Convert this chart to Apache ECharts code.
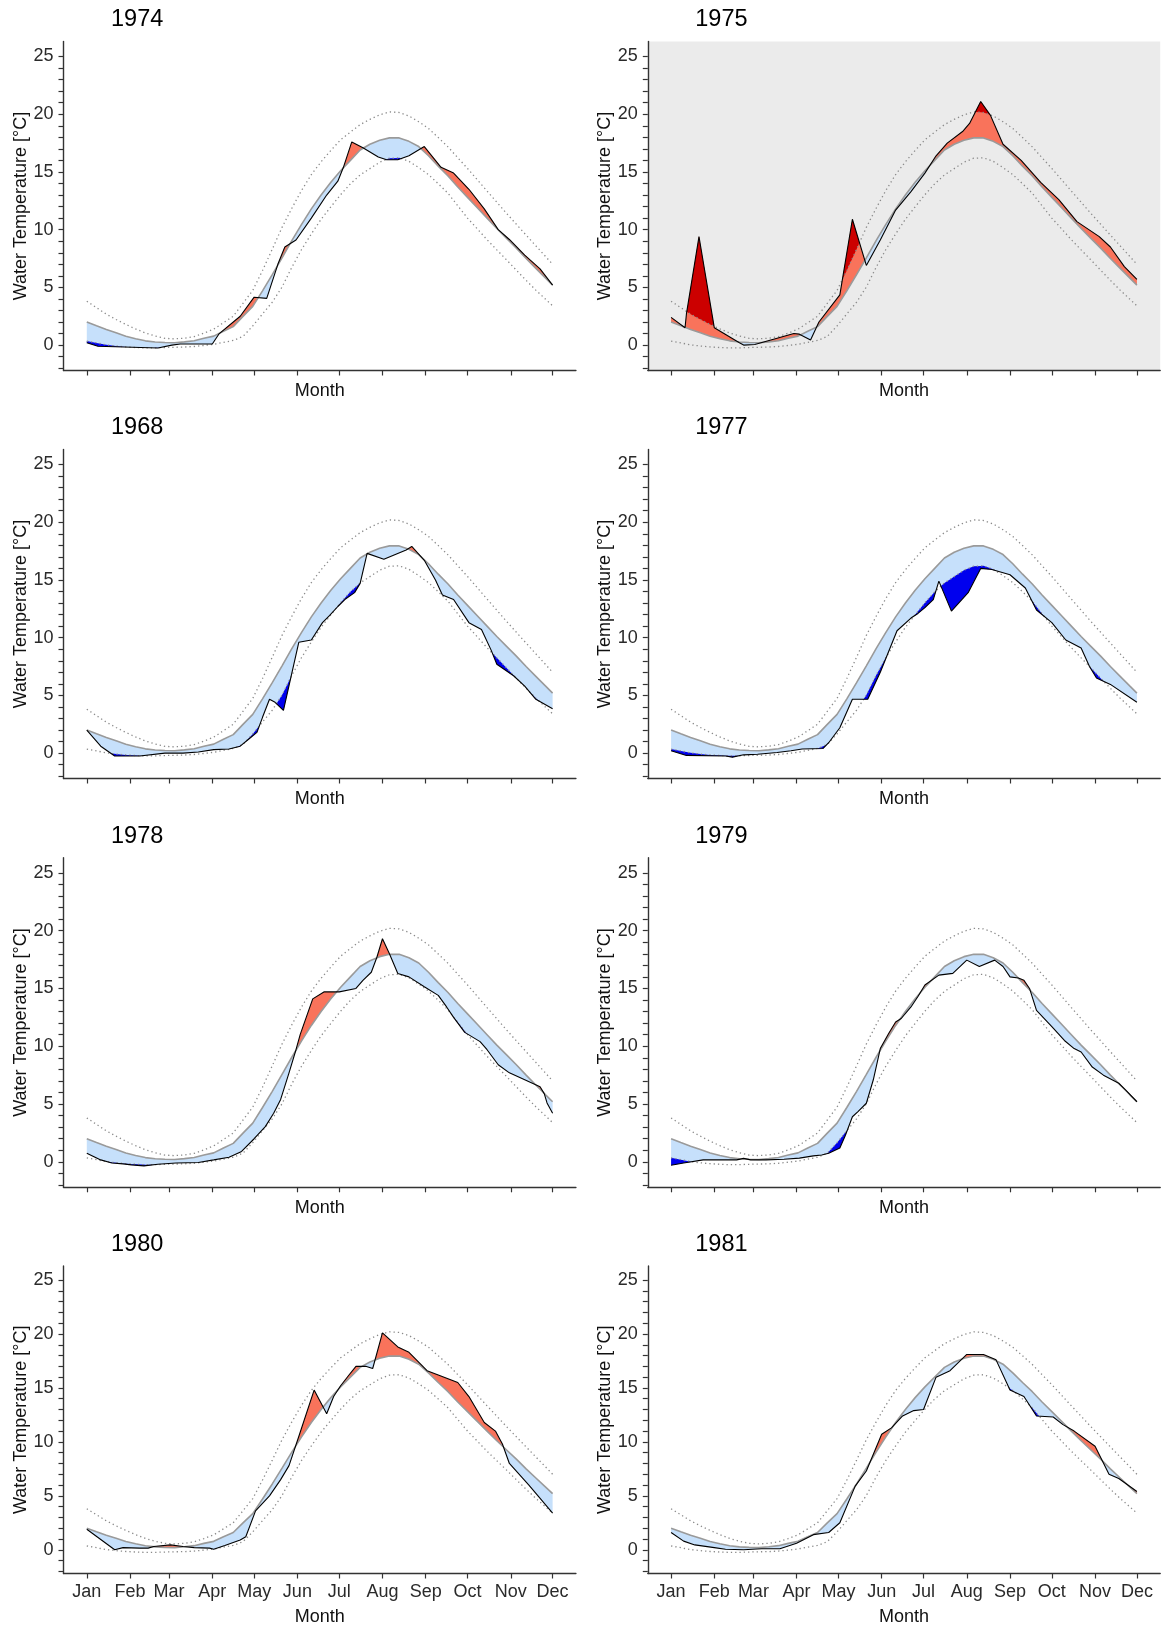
<!DOCTYPE html>
<html><head><meta charset="utf-8">
<script src="https://cdn.jsdelivr.net/npm/echarts@6/dist/echarts.min.js"></script>
<style>html,body{margin:0;padding:0;background:#fff}#c{width:1175px;height:1627px}</style>
</head><body><div id="c"></div>
<script>
// ---- axis ticks / labels ----
const monthStarts = [0,31,59,90,120,151,181,212,243,273,304,334];
const monthNames = ['Jan','Feb','Mar','Apr','May','Jun','Jul','Aug','Sep','Oct','Nov','Dec'];
const yTickValues = [-2,-1,0,1,2,3,4,5,6,7,8,9,10,11,12,13,14,15,16,17,18,19,20,21,22,23,24,25];
const yLabelValues = [0,5,10,15,20,25];

// ---- climatology (day of year from Jan 1) ----
const climDays  = [0,7,14,21,28,35,42,49,56,63,70,77,84,91,98,105,112,119,126,133,140,147,154,161,168,175,182,189,196,203,210,217,224,231,238,245,252,259,266,273,280,287,294,301,308,315,322,329,334];
const climMean  = [2.0,1.67,1.35,1.06,0.77,0.55,0.37,0.27,0.22,0.2,0.28,0.38,0.59,0.78,1.2,1.6,2.49,3.35,4.7,6.1,7.56,9.05,10.46,11.8,13.0,14.1,15.1,16.0,16.9,17.4,17.75,17.95,17.95,17.65,17.2,16.4,15.5,14.65,13.7,12.8,11.9,11.0,10.1,9.25,8.4,7.5,6.65,5.8,5.2];
const climUpper = [3.8,3.24,2.68,2.22,1.79,1.4,1.05,0.79,0.59,0.54,0.6,0.74,1.04,1.38,1.94,2.5,3.62,4.74,6.46,8.31,10.2,11.85,13.4,14.77,15.88,16.86,17.79,18.45,19.1,19.55,19.95,20.2,20.15,19.85,19.35,18.77,17.98,17.17,16.23,15.3,14.32,13.34,12.38,11.41,10.47,9.53,8.6,7.67,7.0];
const climLower = [0.35,0.19,0.02,-0.08,-0.16,-0.21,-0.24,-0.24,-0.21,-0.19,-0.17,-0.12,-0.03,0.07,0.24,0.4,0.75,1.66,2.7,3.72,5.03,6.74,8.28,9.63,10.9,11.98,13.03,13.97,14.74,15.29,15.84,16.19,16.22,15.92,15.38,14.77,13.98,13.15,12.07,11.0,10.07,9.13,8.25,7.38,6.49,5.61,4.76,3.97,3.4];

// ---- observed water temperature [day, °C] ----
const obs1974 = [[0,0.2],[8,-0.1],[51,-0.25],[61,0.0],[67,0.1],[90,0.1],[95,1.0],[110,2.5],[120,4.15],[129,4.05],[137,7.0],[142,8.5],[150,9.1],[161,11.0],[172,13.0],[180,14.2],[184,15.4],[190,17.6],[198,17.1],[209,16.3],[215,16.05],[223,16.05],[231,16.4],[242,17.2],[254,15.4],[263,14.9],[274,13.5],[285,11.8],[295,10.0],[303,9.15],[314,7.8],[325,6.6],[334,5.2]];
const obs1975 = [[0,2.4],[10,1.5],[11,2.7],[20,9.4],[31,1.5],[49,0.2],[52,0.0],[60,0.05],[76,0.6],[88,1.0],[92,0.95],[100,0.45],[106,2.0],[121,4.35],[130,10.9],[140,6.9],[150,9.1],[161,11.7],[172,13.3],[182,14.9],[190,16.4],[198,17.5],[209,18.5],[214,19.2],[222,21.1],[229,19.9],[238,17.4],[251,16.0],[265,14.1],[278,12.6],[291,10.7],[307,9.4],[315,8.5],[325,6.8],[334,5.7]];
const obs1968 = [[0,2.0],[10,0.6],[20,-0.25],[38,-0.25],[56,0.0],[69,0.0],[80,0.1],[91,0.3],[102,0.35],[110,0.6],[116,1.2],[122,1.8],[126,3.1],[131,4.66],[135,4.4],[141,3.7],[152,9.6],[161,9.8],[169,11.3],[174,11.9],[180,12.7],[185,13.3],[192,13.9],[196,14.7],[201,17.3],[213,16.8],[229,17.6],[233,17.9],[242,16.7],[250,15.0],[255,13.7],[263,13.3],[274,11.3],[283,10.7],[290,8.9],[294,7.7],[306,6.7],[314,5.8],[322,4.66],[334,3.85]];
const obs1977 = [[0,0.2],[11,-0.2],[39,-0.25],[44,-0.35],[52,-0.15],[62,-0.1],[76,0.05],[86,0.2],[94,0.35],[109,0.4],[113,0.9],[121,2.2],[130,4.66],[141,4.66],[150,7.0],[162,10.6],[172,11.7],[177,12.1],[182,12.6],[188,13.3],[192,14.9],[201,12.3],[213,13.9],[222,16.0],[230,15.9],[243,15.45],[254,14.3],[262,12.4],[273,11.3],[283,9.8],[294,9.1],[300,7.5],[305,6.5],[315,5.95],[334,4.4]];
const obs1978 = [[0,0.75],[10,0.17],[18,-0.1],[26,-0.17],[32,-0.26],[41,-0.35],[51,-0.2],[64,-0.1],[80,-0.05],[91,0.17],[102,0.4],[111,0.9],[120,2.0],[128,3.05],[134,4.2],[139,5.4],[145,7.7],[150,9.7],[153,11.0],[162,14.1],[170,14.7],[181,14.7],[193,15.0],[198,15.7],[204,16.4],[208,17.7],[212,19.3],[217,18.0],[223,16.3],[231,16.0],[242,15.15],[252,14.4],[258,13.4],[263,12.5],[271,11.2],[282,10.4],[287,9.7],[295,8.4],[303,7.7],[314,7.1],[325,6.5],[328,5.9],[330,5.1],[334,4.2]];
const obs1979 = [[0,-0.3],[9,-0.1],[23,0.17],[39,0.17],[47,0.17],[52,0.3],[57,0.17],[68,0.17],[81,0.23],[92,0.32],[102,0.52],[108,0.6],[113,0.75],[121,1.2],[125,2.3],[130,3.9],[134,4.35],[140,5.07],[145,7.1],[150,9.8],[156,11.1],[161,12.1],[165,12.4],[172,13.4],[177,14.3],[182,15.3],[192,16.15],[202,16.3],[212,17.45],[221,16.9],[232,17.45],[238,16.9],[243,16.0],[249,15.9],[253,15.7],[257,15.0],[262,13.1],[273,11.7],[282,10.5],[289,9.8],[294,9.5],[302,8.2],[310,7.5],[321,6.8],[326,6.2],[334,5.2]];
const obs1980 = [[0,1.9],[20,0.0],[26,0.2],[38,0.15],[44,0.15],[48,0.3],[60,0.45],[69,0.3],[77,0.2],[88,0.15],[91,0.05],[99,0.4],[110,0.9],[114,1.2],[121,3.6],[131,5.0],[139,6.5],[145,7.8],[152,10.5],[163,14.8],[172,12.6],[177,14.2],[182,15.2],[188,16.2],[193,17.0],[200,17.0],[205,16.8],[212,20.1],[223,18.8],[231,18.3],[244,16.6],[252,16.2],[266,15.5],[274,14.2],[285,11.8],[293,11.0],[298,9.8],[303,8.0],[317,6.0],[334,3.4]];
const obs1981 = [[0,1.6],[9,0.8],[17,0.45],[31,0.2],[39,0.05],[52,0.0],[65,0.1],[78,0.1],[90,0.6],[102,1.4],[113,1.6],[121,2.5],[132,5.9],[140,7.3],[151,10.7],[158,11.3],[166,12.4],[174,12.9],[181,13.0],[190,16.0],[200,16.6],[212,18.1],[224,18.1],[233,17.6],[243,14.8],[253,14.2],[262,12.4],[274,12.3],[281,11.6],[289,11.0],[304,9.6],[314,7.0],[321,6.6],[334,5.4]];

const panelYears = ['1974','1975','1968','1977','1978','1979','1980','1981'];
const panelObs = [obs1974, obs1975, obs1968, obs1977, obs1978, obs1979, obs1980, obs1981];
const greyPanel = '1975';

// ---- layout & style ----
const COL_LEFT = [63.5, 647.8];
const PLOT_W = 512.4;
const ROW_TOP = [41.5, 449.5, 857.8, 1266];
const ROW_H = [329, 329, 329.5, 307.5];
const FONT = '"Liberation Sans", Arial, Helvetica, sans-serif';
const C_LIGHTBLUE = '#C6E0FB', C_SALMON = '#F9735B', C_DARKRED = '#CC0000', C_DARKBLUE = '#0000EE';

function interp(xs, ys, x) {
  if (x <= xs[0]) return ys[0];
  if (x >= xs[xs.length - 1]) return ys[ys.length - 1];
  let lo = 0, hi = xs.length - 1;
  while (hi - lo > 1) { const m = (lo + hi) >> 1; if (xs[m] <= x) lo = m; else hi = m; }
  const t = (x - xs[lo]) / (xs[hi] - xs[lo]);
  return ys[lo] + t * (ys[hi] - ys[lo]);
}
// split the area between polyline O and reference R into runs of constant sign
function bandRuns(X, O, R) {
  const out = []; let cur = null;
  for (let i = 0; i < X.length; i++) {
    const d = O[i] - R[i];
    const s = d > 0 ? 1 : (d < 0 ? -1 : 0);
    if (i > 0) {
      const dp = O[i - 1] - R[i - 1];
      if (dp * d < 0) {
        const t = dp / (dp - d);
        const xc = X[i - 1] + t * (X[i] - X[i - 1]);
        const yc = O[i - 1] + t * (O[i] - O[i - 1]);
        cur.pts.push([xc, yc, yc]);
        out.push(cur);
        cur = { sign: s, pts: [[xc, yc, yc]] };
      }
    }
    if (!cur) cur = { sign: s, pts: [] };
    if (cur.sign === 0) cur.sign = s;
    cur.pts.push([X[i], O[i], R[i]]);
    if (s === 0 && cur.pts.length > 1) { out.push(cur); cur = { sign: 0, pts: [[X[i], O[i], R[i]]] }; }
  }
  if (cur && cur.pts.length > 1) out.push(cur);
  return out;
}
function runPolygon(run) {
  const top = run.pts.map(p => [p[0], p[1]]);
  const bottom = run.pts.map(p => [p[0], p[2]]).reverse();
  return top.concat(bottom);
}
function buildPolys(obs) {
  const od = obs.map(p => p[0]), ov = obs.map(p => p[1]);
  const X = Array.from(new Set(od.concat(climDays)))
    .filter(x => x >= od[0] && x <= od[od.length - 1]).sort((a, b) => a - b);
  const O = X.map(x => interp(od, ov, x));
  const M = X.map(x => interp(climDays, climMean, x));
  const U = X.map(x => interp(climDays, climUpper, x));
  const L = X.map(x => interp(climDays, climLower, x));
  const polys = [];
  bandRuns(X, O, M).forEach(r => {
    if (r.sign > 0) polys.push({ c: C_SALMON, pts: runPolygon(r) });
    else if (r.sign < 0) polys.push({ c: C_LIGHTBLUE, pts: runPolygon(r) });
  });
  bandRuns(X, O, U).forEach(r => { if (r.sign > 0) polys.push({ c: C_DARKRED, pts: runPolygon(r) }); });
  bandRuns(X, O, L).forEach(r => { if (r.sign < 0) polys.push({ c: C_DARKBLUE, pts: runPolygon(r) }); });
  return polys;
}

const grids = [], xAxes = [], yAxes = [], series = [], graphics = [];
panelYears.forEach((yr, i) => {
  const row = Math.floor(i / 2), col = i % 2;
  const left = COL_LEFT[col], top = ROW_TOP[row], h = ROW_H[row];
  const isBottom = row === 3;
  grids.push({
    left: left, top: top, width: PLOT_W, height: h, containLabel: false,
    show: yr === greyPanel, backgroundColor: '#EBEBEB', borderWidth: 0
  });
  const axisLineStyle = { color: '#333', width: 1.4 };
  xAxes.push({
    type: 'value', gridIndex: i, min: -16.7, max: 350.7,
    axisLine: { show: true, onZero: false, lineStyle: axisLineStyle },
    axisTick: { show: true, length: 5, customValues: monthStarts, lineStyle: { color: '#333', width: 1.2 } },
    axisLabel: {
      show: isBottom, customValues: monthStarts, margin: 10,
      fontSize: 18, fontFamily: FONT, color: '#2a2a2a',
      formatter: v => monthNames[monthStarts.indexOf(v)] || ''
    },
    splitLine: { show: false }
  });
  yAxes.push({
    type: 'value', gridIndex: i, min: -2.2, max: 26.3,
    axisLine: { show: true, onZero: false, lineStyle: axisLineStyle },
    axisTick: { show: true, length: 5, customValues: yTickValues, lineStyle: { color: '#333', width: 1.2 } },
    axisLabel: { show: true, customValues: yLabelValues, margin: 10, fontSize: 18, fontFamily: FONT, color: '#2a2a2a' },
    splitLine: { show: false }
  });

  const polys = buildPolys(panelObs[i]);
  series.push({
    type: 'custom', xAxisIndex: i, yAxisIndex: i, silent: true, animation: false, z: 1,
    encode: { x: 0, y: 1 },
    data: polys.map(p => [p.pts[0][0], p.pts[0][1]]),
    renderItem: (params, api) => {
      const p = polys[params.dataIndex];
      return { type: 'polygon', shape: { points: p.pts.map(q => api.coord(q)) }, style: { fill: p.c } };
    }
  });
  const lineBase = { type: 'line', xAxisIndex: i, yAxisIndex: i, symbol: 'none', silent: true, animation: false };
  series.push(Object.assign({}, lineBase, { z: 3, data: climDays.map((d, k) => [d, climUpper[k]]), lineStyle: { color: '#8a8a8a', width: 1.3, type: [1.3, 3] } }));
  series.push(Object.assign({}, lineBase, { z: 3, data: climDays.map((d, k) => [d, climLower[k]]), lineStyle: { color: '#8a8a8a', width: 1.3, type: [1.3, 3] } }));
  series.push(Object.assign({}, lineBase, { z: 4, data: climDays.map((d, k) => [d, climMean[k]]), lineStyle: { color: '#9a9a9a', width: 1.6 } }));
  series.push(Object.assign({}, lineBase, { z: 5, data: panelObs[i], lineStyle: { color: '#000', width: 1.1 } }));

  graphics.push({ type: 'text', x: left + 47.5, y: top - 21.5, silent: true,
    style: { text: yr, font: '23.5px ' + FONT, fill: '#000', align: 'left', textAlign: 'left', verticalAlign: 'middle', textVerticalAlign: 'middle' } });
  graphics.push({ type: 'text', x: left - 42.8, y: top + h / 2, rotation: Math.PI / 2, silent: true,
    style: { text: 'Water Temperature [°C]', font: '18px ' + FONT, fill: '#111', align: 'center', textAlign: 'center', verticalAlign: 'middle', textVerticalAlign: 'middle' } });
  graphics.push({ type: 'text', x: left + PLOT_W / 2, y: top + h + (isBottom ? 43.5 : 20.5), silent: true,
    style: { text: 'Month', font: '18px ' + FONT, fill: '#111', align: 'center', textAlign: 'center', verticalAlign: 'middle', textVerticalAlign: 'middle' } });
});

const chart = echarts.init(document.getElementById('c'), null, { renderer: 'canvas', width: 1175, height: 1627 });
chart.setOption({
  animation: false,
  backgroundColor: '#fff',
  grid: grids, xAxis: xAxes, yAxis: yAxes, series: series, graphic: graphics
});
</script></body></html>
